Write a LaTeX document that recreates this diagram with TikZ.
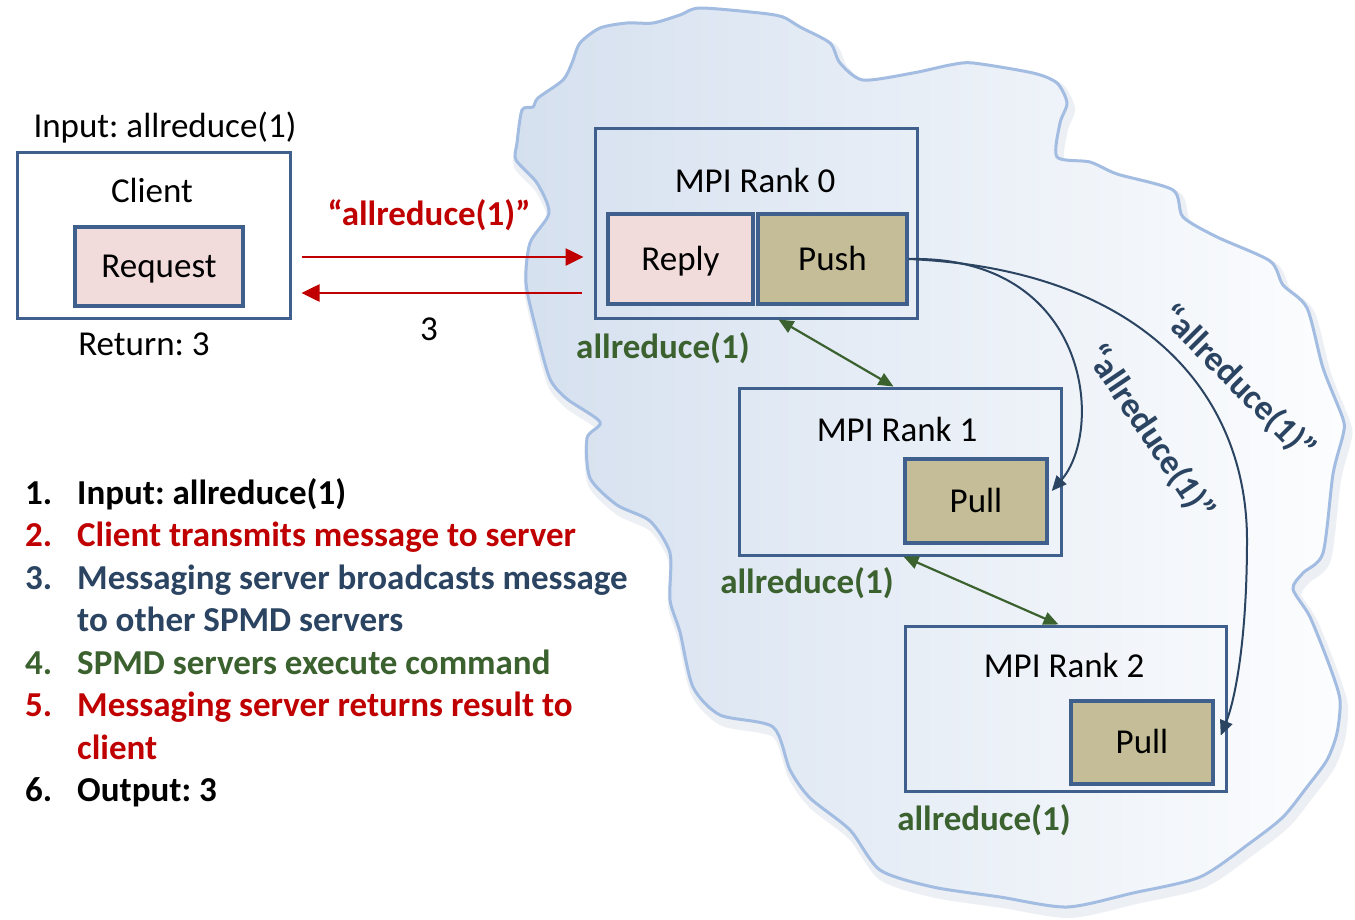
\documentclass[tikz,border=0pt]{standalone}
\usepackage{fontspec}
\setmainfont{Carlito}
\frenchspacing
\usetikzlibrary{arrows.meta}
\definecolor{boxblue}{HTML}{3F5F8C}
\definecolor{pinkfill}{HTML}{F2DCDB}
\definecolor{tanfill}{HTML}{C4BD97}
\definecolor{redc}{HTML}{C00000}
\definecolor{greenc}{HTML}{3B612F}
\definecolor{navyc}{HTML}{2B4462}
\definecolor{cloudedge}{HTML}{A3BCE2}
\definecolor{cloudleft}{HTML}{D5E0EF}
\definecolor{cloudright}{HTML}{FCFDFE}
\tikzset{
  cloudshape/.style={insert path={plot[smooth cycle,tension=0.45] coordinates{
   (522,110) (533,107) (538,98) (563,80) (572,63) (580,43) (600,28) (627,23) (653,23) (680,15) (700,8) (760,13) (783,17) (800,27) (830,43) (840,63) (863,80) (913,73) (950,65) (973,63) (1033,73) (1057,83) (1067,103) (1060,123) (1057,157) (1090,162) (1117,174) (1173,190) (1183,217) (1217,237) (1270,261) (1283,285) (1307,308) (1323,368) (1343,419) (1343,435) (1333,474) (1323,553) (1303,573) (1293,589) (1310,617) (1330,667) (1340,700) (1337,733) (1327,760) (1307,787) (1283,817) (1250,843) (1200,877) (1133,893) (1067,907) (1000,897) (933,887) (880,870) (850,830) (810,798) (790,770) (773,727) (720,715) (693,687) (680,632) (670,600) (670,553) (650,521) (617,505) (590,478) (587,438) (600,422) (567,399) (550,379) (537,333) (526,283) (530,243) (549,213) (537,183) (516,160) (517,143)
  }}},
}
\begin{document}
\begin{tikzpicture}[x=1pt,y=-1pt,
  every node/.style={font=\fontsize{35}{42.5}\selectfont, inner sep=0pt},
  box/.style={draw=boxblue, line width=3pt},
  inbox/.style={draw=boxblue, line width=3.5pt, text height=26pt, text depth=4pt},
  lbl/.style={anchor=base},
  glbl/.style={anchor=base, text=greenc, font=\fontsize{35}{42.5}\selectfont\bfseries},
  qlbl/.style={text=navyc, font=\fontsize{35}{42.5}\selectfont\bfseries},
  redarrow/.style={draw=redc, line width=2.6pt, -{Triangle[length=18pt,width=17pt]}},
  greenarrow/.style={draw=greenc, line width=2.2pt, {Triangle[length=15pt,width=13pt]}-{Triangle[length=15pt,width=13pt]}},
  bluearrow/.style={draw=navyc, line width=2pt, -{Triangle[length=15pt,width=13pt]}},
  num/.style={anchor=base west, font=\fontsize{35}{42.5}\selectfont\bfseries},
]
\useasboundingbox (0,0) rectangle (1355,919);
\fill[white] (0,0) rectangle (1355,919);

% cloud
\path[shift={(3,6)}, cloudshape, draw=cloudedge!70!gray, line width=10pt, opacity=0.18];
\path[cloudshape, left color=cloudleft, right color=cloudright];
\path[cloudshape, draw=cloudedge, line width=3pt];

% client
\node[box, minimum width=273, minimum height=166] (client) at (153.5,235) {};
\node[inbox, fill=pinkfill, minimum width=168, minimum height=79] (request) at (159,266.5) {Request};
\node[lbl] (inlbl) at (165,137) {Input: allreduce(1)};
\node[lbl] (clientlbl) at (152,202) {Client};
\node[lbl] (retlbl) at (144,355) {Return: 3};

% rank 0
\node[box, minimum width=322, minimum height=190] (r0) at (756,223) {};
\node[inbox, fill=pinkfill, minimum width=145, minimum height=90] (reply) at (680.5,259) {Reply};
\node[inbox, fill=tanfill, minimum width=149, minimum height=90] (push) at (832.5,259) {Push};
\node[lbl] (r0lbl) at (755,192) {MPI Rank 0};

% rank 1
\node[box, minimum width=322, minimum height=167] (r1) at (900,471.5) {};
\node[inbox, fill=tanfill, minimum width=142, minimum height=84] (pull1) at (976,501) {Pull};
\node[lbl] (r1lbl) at (897,441) {MPI Rank 1};

% rank 2
\node[box, minimum width=321, minimum height=165] (r2) at (1065.5,708.5) {};
\node[inbox, fill=tanfill, minimum width=142, minimum height=83] (pull2) at (1142,742.5) {Pull};
\node[lbl] (r2lbl) at (1064,677) {MPI Rank 2};

% green labels
\node[glbl] (g0) at (663,358) {allreduce(1)};
\node[glbl] (g1) at (807,593) {allreduce(1)};
\node[glbl] (g2) at (984,830) {allreduce(1)};

% red arrows and labels
\draw[redarrow] ([shift={(10,22)}]client.east) -- ([shift={(-10,34)}]r0.west);
\draw[redarrow] ([shift={(-12,70)}]r0.west) -- ([shift={(10,58)}]client.east);
\node[lbl, text=redc, font=\fontsize{35}{42.5}\selectfont\bfseries] (msg) at (429,225) {“allreduce(1)”};
\node[lbl] (three) at (429,340) {3};

% green arrows
\draw[greenarrow] ([xshift=185pt]r0.south west) -- ([xshift=156pt]r1.north west);
\draw[greenarrow] ([xshift=166pt]r1.south west) -- ([xshift=155pt]r2.north west);

% blue broadcast curves
\draw[bluearrow] (push.east) .. controls (1090,255) and (1105,430) .. ([shift={(3,-10)}]pull1.east);
\coordinate (bend) at (1247,540);
\draw[bluearrow] (push.east) .. controls (1150,270) and (1247,400) .. (bend) .. controls (1247,640) and (1235,700) .. ([shift={(6,-7)}]pull2.east);
\node[qlbl, rotate=-56] (q1) at (1150,433) {“allreduce(1)”};
\node[qlbl, rotate=-45] (q2) at (1238,383) {“allreduce(1)”};

% numbered list
\node[num] (n1) at (25,504) {1.};
\node[num] (t1) at (77,504) {Input: allreduce(1)};
\node[num, text=redc] (n2) at (25,546.5) {2.};
\node[num, text=redc] (t2) at (77,546.5) {Client transmits message to server};
\node[num, text=navyc] (n3) at (25,589) {3.};
\node[num, text=navyc] (t3) at (77,589) {Messaging server broadcasts message};
\node[num, text=navyc] (t3b) at (77,631.5) {to other SPMD servers};
\node[num, text=greenc] (n4) at (25,674) {4.};
\node[num, text=greenc] (t4) at (77,674) {SPMD servers execute command};
\node[num, text=redc] (n5) at (25,716.5) {5.};
\node[num, text=redc] (t5) at (77,716.5) {Messaging server returns result to};
\node[num, text=redc] (t5b) at (77,759) {client};
\node[num] (n6) at (25,801.5) {6.};
\node[num] (t6) at (77,801.5) {Output: 3};
\end{tikzpicture}
\end{document}
